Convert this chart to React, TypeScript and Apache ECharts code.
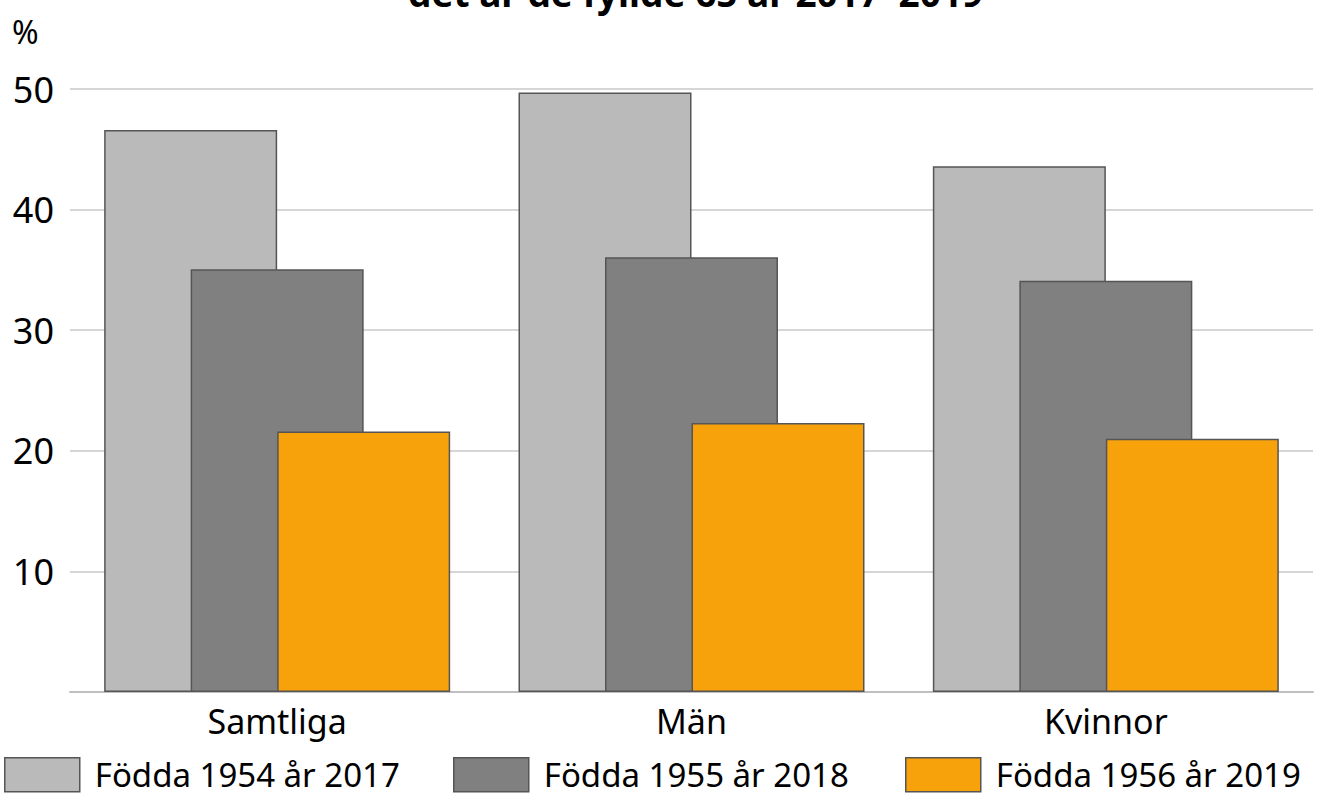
import React, { useEffect, useRef } from "react";
import * as echarts from "echarts";

const categories = ["Samtliga", "Män", "Kvinnor"];
const seriesNames = ["Födda 1954 år 2017", "Födda 1955 år 2018", "Födda 1956 år 2019"];
const born1954 = [46.6, 49.7, 43.6];
const born1955 = [35.05, 36.05, 34.1];
const born1956 = [21.6, 22.3, 21.0];
const colors = ["#bababa", "#808080", "#f8a20b"];
const titleText = "det år de fyllde 65 år 2017–2019";
const FONT = "'Noto Sans', sans-serif";

export default function App() {
  const ref = useRef<HTMLDivElement>(null);
  useEffect(() => {
    document.body.style.margin = "0";
    const chart = echarts.init(ref.current!, null, { renderer: "svg" });
    const values = [born1954, born1955, born1956];
    const legendLefts = [4, 453, 905];
    chart.setOption({
      animation: false,
      textStyle: { fontFamily: FONT },
      grid: { left: 70, right: 6, top: 89, bottom: 104 },
      graphic: [
        {
          type: "text",
          x: 408,
          y: -8,
          style: {
            text: titleText,
            font: `bold 37px ${FONT}`,
            fill: "#000",
            verticalAlign: "middle",
          },
        },
        {
          type: "text",
          x: 12,
          y: 31,
          style: { text: "%", font: `32px ${FONT}`, fill: "#000", verticalAlign: "middle" },
        },
      ],
      legend: seriesNames.map((n, i) => ({
        data: [n],
        left: legendLefts[i],
        top: 757,
        padding: 0,
        itemWidth: 75,
        itemHeight: 34,
        icon: "rect",
        selectedMode: false,
        textStyle: {
          fontSize: 33,
          lineHeight: 30,
          fontFamily: FONT,
          color: "#000",
          padding: [0, 0, 0, 10],
        },
        itemStyle: { borderColor: "#555", borderWidth: 1.5 },
      })),
      xAxis: {
        type: "category",
        data: categories,
        axisLine: { lineStyle: { color: "#bfbfbf", width: 2 } },
        axisTick: { show: false },
        axisLabel: { fontSize: 34, color: "#000", margin: 12, fontFamily: FONT },
      },
      yAxis: {
        type: "value",
        min: 0,
        max: 50,
        interval: 10,
        axisLine: { show: false },
        axisTick: { show: false },
        splitLine: { lineStyle: { color: "#c8c8c8", width: 1.5 } },
        axisLabel: {
          fontSize: 36,
          color: "#000",
          margin: 16,
          fontFamily: FONT,
          formatter: (v: number) => (v === 0 ? "" : String(v)),
        },
      },
      series: values.map((d, i) => ({
        name: seriesNames[i],
        type: "bar",
        data: d,
        barWidth: 173,
        barGap: "-50%",
        itemStyle: { color: colors[i], borderColor: "#555", borderWidth: 1.5 },
      })),
    });
    return () => chart.dispose();
  }, []);
  return <div ref={ref} style={{ width: 1319, height: 796 }} />;
}
